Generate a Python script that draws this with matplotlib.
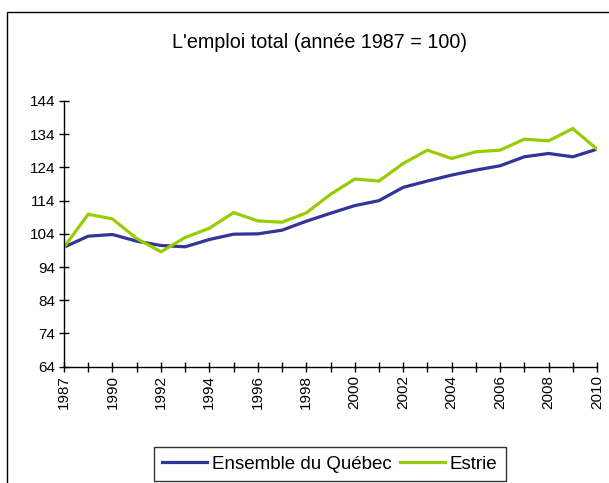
import matplotlib
matplotlib.use("Agg")
import matplotlib.pyplot as plt
from matplotlib.patches import Rectangle

plt.rcParams['font.family'] = ['Liberation Sans', 'DejaVu Sans']

years = ["1987", "1989", "1990", "1991", "1992", "1993", "1994", "1995", "1996",
         "1997", "1998", "1999", "2000", "2001", "2002", "2003", "2004", "2005",
         "2006", "2007", "2008", "2009", "2010"]
quebec = [100.0, 103.3, 103.8, 101.8, 100.5, 100.1, 102.3, 103.9, 104.0, 105.1,
          107.8, 110.2, 112.5, 114.0, 118.0, 119.9, 121.7, 123.2, 124.5, 127.2,
          128.2, 127.2, 129.5]
estrie = [100.0, 109.9, 108.5, 102.6, 98.6, 102.9, 105.7, 110.4, 107.9, 107.5,
          110.3, 115.9, 120.5, 119.9, 125.2, 129.2, 126.7, 128.7, 129.2, 132.5,
          132.0, 135.7, 129.5]
yticks = [64, 74, 84, 94, 104, 114, 124, 134, 144]
title = "L'emploi total (année 1987 = 100)"
labels = ["Ensemble du Québec", "Estrie"]

W, H = 609, 483
fig = plt.figure(figsize=(W / 100, H / 100), dpi=100)
ax = fig.add_axes([64 / W, 1 - 366.7 / H, (597 - 64) / W, (366.7 - 101) / H])

x = list(range(len(years)))
l1, = ax.plot(x, quebec, color='#333399', lw=2.3, solid_joinstyle='miter')
l2, = ax.plot(x, estrie, color='#99CC00', lw=2.3, solid_joinstyle='miter')

ax.set_xlim(0, len(years) - 1)
ax.set_ylim(64, 144)
ax.set_yticks(yticks)
ax.set_yticklabels([str(v) for v in yticks], fontsize=11)
ax.set_xticks(x)
ax.set_xticklabels([y if i % 2 == 0 else "" for i, y in enumerate(years)],
                   rotation=90, fontsize=11)
ax.tick_params(direction='inout', length=6.5, width=1, color='black', pad=3)
for s in ['top', 'right']:
    ax.spines[s].set_visible(False)
for s in ['left', 'bottom']:
    ax.spines[s].set_linewidth(1)

fig.text(319 / W, 1 - 43 / H, title, ha='center', va='center', fontsize=14.2)

# outer chart-area border (only top and left edges visible)
fig.patches.append(Rectangle((7 / W, -0.1), 1.2, 1 - 12.5 / H + 0.1,
                             transform=fig.transFigure, fill=False,
                             edgecolor='black', lw=1, clip_on=False))

leg = fig.legend([l1, l2], labels, loc='center', ncol=2,
                 bbox_to_anchor=(330 / W, 1 - 464 / H), fontsize=13.5,
                 frameon=True, fancybox=False, edgecolor='black',
                 handlelength=2.4, handletextpad=0.25, columnspacing=0.45,
                 borderpad=0.45, borderaxespad=0)
leg.get_frame().set_linewidth(1)

fig.savefig("out.png", dpi=100)
